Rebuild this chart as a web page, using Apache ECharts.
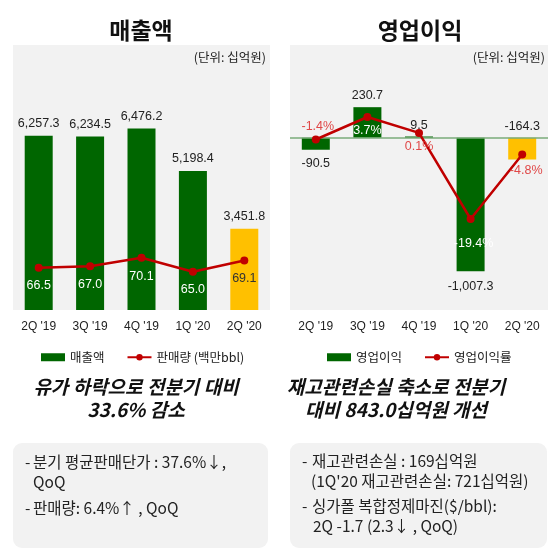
<!DOCTYPE html>
<html>
<head>
<meta charset="utf-8">
<script src="https://cdn.jsdelivr.net/npm/echarts@6/dist/echarts.min.js"></script>
<style>
  html, body { margin: 0; padding: 0; background: #fff; }
  #chart { width: 558px; height: 554px; }
</style>
</head>
<body>
<div id="chart"></div>
<script>
const quarters = ["2Q '19", "3Q '19", "4Q '19", "1Q '20", "2Q '20"];
const revenue = [6257.3, 6234.5, 6476.2, 5198.4, 3451.8];
const salesVolume = [66.5, 67.0, 70.1, 65.0, 69.1];
const opProfit = [-90.5, 230.7, 9.5, -1007.3, -164.3];
const opMargin = [-1.4, 3.7, 0.1, -19.4, -4.8];

const FONT = "'Liberation Sans', Arial, 'Noto Sans CJK KR', sans-serif";
const KFONT = "'Noto Sans CJK KR', sans-serif";
const GREEN = "#006600";
const YELLOW = "#ffc000";
const RED = "#c00000";
const LRED = "#e04848";
const PANEL = "#f2f2f2";

const fmt = v => v.toLocaleString("en-US", { minimumFractionDigits: 1, maximumFractionDigits: 1 });

let myChart = echarts.init(document.getElementById("chart"), null, { renderer: "canvas" });

// label placement per point (style only)
const profitLabelPos = ["bottom", "top", "top", "bottom", "top"];
const profitLabelDist = [8, 5, 5, 9, 5];
const marginLabelPos = ["top", "bottom", "bottom", "bottom", "bottom"];
const marginLabelDist = [3, 3, 3, 14, 6];
const marginLabelColor = [LRED, "#fff", LRED, "#fff", LRED];
const marginLabelShift = [[2, 0], [0, 0], [0, 0], [3, 0], [4, 0]];

const lastIdx = quarters.length - 1;

let xAxisBase = {
    type: "category",
    data: quarters,
    axisLine: { show: false },
    axisTick: { show: false },
    axisLabel: { color: "#222", fontSize: 12, fontFamily: FONT, margin: 11 }
};

let option = {
    animation: false,
    textStyle: { fontFamily: FONT },
    grid: [
        { left: 13, top: 45, width: 257, height: 265, show: true, backgroundColor: PANEL, borderWidth: 0 },
        { left: 290, top: 45, width: 258, height: 265, show: true, backgroundColor: PANEL, borderWidth: 0 }
    ],
    xAxis: [
        Object.assign({ gridIndex: 0 }, xAxisBase),
        Object.assign({ gridIndex: 1 }, xAxisBase)
    ],
    yAxis: [
        { gridIndex: 0, type: "value", min: 1000, max: 9000, show: false, splitLine: { show: false } },
        { gridIndex: 0, type: "value", min: 51, max: 148, show: false, splitLine: { show: false } },
        { gridIndex: 1, type: "value", min: -1300, max: 700, show: false, splitLine: { show: false } },
        { gridIndex: 1, type: "value", min: -40, max: 20, show: false, splitLine: { show: false } }
    ],
    legend: [
        {
            left: 36, top: 346,
            itemWidth: 24, itemHeight: 8, itemGap: 22,
            textStyle: { fontSize: 12.5, color: "#222", fontFamily: KFONT },
            data: [
                { name: "매출액", icon: "rect" },
                { name: "판매량 (백만bbl)" }
            ]
        },
        {
            left: 322, top: 346,
            itemWidth: 24, itemHeight: 8, itemGap: 22,
            textStyle: { fontSize: 12.5, color: "#222", fontFamily: KFONT },
            data: [
                { name: "영업이익", icon: "rect" },
                { name: "영업이익률" }
            ]
        }
    ],
    series: [
        {
            name: "매출액",
            type: "bar",
            xAxisIndex: 0, yAxisIndex: 0,
            barWidth: 28,
            itemStyle: { color: GREEN },
            label: {
                show: true, position: "top", distance: 6,
                color: "#222", fontSize: 12.5, fontFamily: FONT,
                formatter: p => fmt(p.value)
            },
            data: revenue.map((v, i) => ({
                value: v,
                itemStyle: { color: i === lastIdx ? YELLOW : GREEN }
            }))
        },
        {
            name: "판매량 (백만bbl)",
            type: "line",
            xAxisIndex: 0, yAxisIndex: 1,
            symbol: "circle", symbolSize: 8,
            lineStyle: { color: RED, width: 2.5 },
            itemStyle: { color: RED },
            z: 5,
            label: {
                show: true, position: "bottom", distance: 8,
                fontSize: 12.5, fontFamily: FONT,
                formatter: p => p.value.toFixed(1)
            },
            data: salesVolume.map((v, i) => ({
                value: v,
                label: { color: i === lastIdx ? "#333" : "#fff" }
            }))
        },
        {
            name: "영업이익",
            type: "bar",
            xAxisIndex: 1, yAxisIndex: 2,
            barWidth: 28,
            itemStyle: { color: GREEN },
            label: {
                show: true, color: "#222", fontSize: 12.5, fontFamily: FONT,
                formatter: p => fmt(p.value)
            },
            markLine: {
                silent: true,
                symbol: "none",
                label: { show: false },
                lineStyle: { color: "#7aab7a", width: 1.5, type: "solid" },
                data: [{ yAxis: 0 }]
            },
            data: opProfit.map((v, i) => ({
                value: v,
                itemStyle: { color: i === lastIdx ? YELLOW : GREEN },
                label: { position: profitLabelPos[i], distance: profitLabelDist[i] }
            }))
        },
        {
            name: "영업이익률",
            type: "line",
            xAxisIndex: 1, yAxisIndex: 3,
            symbol: "circle", symbolSize: 8,
            lineStyle: { color: RED, width: 2.5 },
            itemStyle: { color: RED },
            z: 5,
            label: {
                show: true, fontSize: 12.5, fontFamily: FONT,
                formatter: p => p.value.toFixed(1) + "%"
            },
            data: opMargin.map((v, i) => ({
                value: v,
                label: {
                    position: marginLabelPos[i],
                    distance: marginLabelDist[i],
                    color: marginLabelColor[i],
                    offset: marginLabelShift[i]
                }
            }))
        }
    ],
    graphic: [
        // panel titles
        { type: "text", x: 141, y: 30, style: { text: "매출액", font: "bold 23px " + KFONT, fill: "#111", align: "center", verticalAlign: "middle" } },
        { type: "text", x: 420, y: 30, style: { text: "영업이익", font: "bold 23px " + KFONT, fill: "#111", align: "center", verticalAlign: "middle" } },
        // unit notes
        { type: "text", x: 266, y: 57, z: 10, style: { text: "(단위: 십억원)", font: "12.5px " + KFONT, fill: "#222", align: "right", verticalAlign: "middle" } },
        { type: "text", x: 545, y: 57, z: 10, style: { text: "(단위: 십억원)", font: "12.5px " + KFONT, fill: "#222", align: "right", verticalAlign: "middle" } },
        // headlines
        { type: "text", x: 136, y: 398, style: { text: "유가 하락으로 전분기 대비\n33.6% 감소", font: "italic bold 19px " + KFONT, fill: "#111", align: "center", verticalAlign: "middle", lineHeight: 23 } },
        { type: "text", x: 396, y: 398, style: { text: "재고관련손실 축소로 전분기\n대비 843.0십억원 개선", font: "italic bold 19px " + KFONT, fill: "#111", align: "center", verticalAlign: "middle", lineHeight: 23 } },
        // boxes
        { type: "rect", shape: { x: 13, y: 443, width: 255, height: 105, r: 9 }, style: { fill: PANEL } },
        { type: "rect", shape: { x: 290, y: 443, width: 257, height: 105, r: 9 }, style: { fill: PANEL } },
        // left box bullets
        { type: "text", x: 25, y: 462, z: 10, style: { text: "-", font: "15.5px " + KFONT, fill: "#222", verticalAlign: "middle" } },
        { type: "text", x: 33, y: 462, z: 10, style: { text: "분기 평균판매단가 : 37.6%↓,", font: "15.5px " + KFONT, fill: "#222", verticalAlign: "middle" } },
        { type: "text", x: 33, y: 482, z: 10, style: { text: "QoQ", font: "15.5px " + KFONT, fill: "#222", verticalAlign: "middle" } },
        { type: "text", x: 25, y: 508, z: 10, style: { text: "-", font: "15.5px " + KFONT, fill: "#222", verticalAlign: "middle" } },
        { type: "text", x: 33, y: 508, z: 10, style: { text: "판매량: 6.4%↑ , QoQ", font: "15.5px " + KFONT, fill: "#222", verticalAlign: "middle" } },
        // right box bullets
        { type: "text", x: 302, y: 461, z: 10, style: { text: "-", font: "15.5px " + KFONT, fill: "#222", verticalAlign: "middle" } },
        { type: "text", x: 312, y: 461, z: 10, style: { text: "재고관련손실 : 169십억원", font: "15.5px " + KFONT, fill: "#222", verticalAlign: "middle" } },
        { type: "text", x: 311, y: 481, z: 10, style: { text: "(1Q'20 재고관련손실: 721십억원)", font: "15.5px " + KFONT, fill: "#222", verticalAlign: "middle" } },
        { type: "text", x: 302, y: 506, z: 10, style: { text: "-", font: "15.5px " + KFONT, fill: "#222", verticalAlign: "middle" } },
        { type: "text", x: 312, y: 506, z: 10, style: { text: "싱가폴 복합정제마진($/bbl):", font: "15.5px " + KFONT, fill: "#222", verticalAlign: "middle" } },
        { type: "text", x: 313, y: 526, z: 10, style: { text: "2Q -1.7 (2.3↓ , QoQ)", font: "15.5px " + KFONT, fill: "#222", verticalAlign: "middle" } }
    ]
};

myChart.setOption(option, true);
</script>
</body>
</html>
